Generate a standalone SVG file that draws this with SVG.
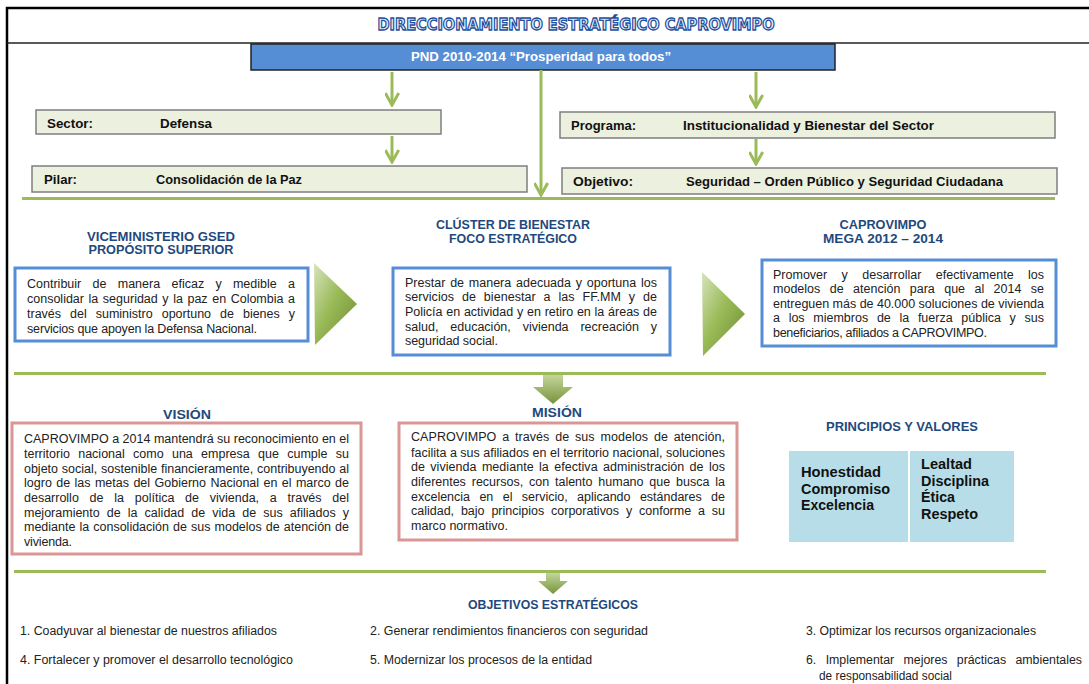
<svg xmlns="http://www.w3.org/2000/svg" width="1089" height="684" viewBox="0 0 1089 684">
<defs>
<style>
.frame{fill:none;stroke:#000;stroke-width:2.5}
.hdr{fill:#ecf0df;stroke:#7f7f7f;stroke-width:1.5}
.lbl{font-family:"Liberation Sans",Arial,sans-serif;font-weight:bold;font-size:12.5px;fill:#111}
.head{font-family:"Liberation Sans",Arial,sans-serif;font-weight:bold;font-size:13px;fill:#1f497d;text-anchor:middle}
.body{font-family:"Liberation Sans",Arial,sans-serif;font-size:12.5px;fill:#222}
.bbox{fill:#fff;stroke:#558ed5;stroke-width:3}
.pbox{fill:#fff;stroke:#d99694;stroke-width:3}
.gline{stroke:#9bbb59;stroke-width:3;fill:none}
.conn{stroke:#9bbb59;stroke-width:3;fill:none}
.val{font-family:"Liberation Sans",Arial,sans-serif;font-weight:bold;font-size:14.5px;fill:#111}
.obj{font-family:"Liberation Sans Narrow","Liberation Sans",Arial,sans-serif;font-size:12.5px;fill:#222}
</style>
<marker id="chev" viewBox="0 0 10 10" refX="9" refY="5" markerWidth="5" markerHeight="5" orient="auto" markerUnits="strokeWidth">
<path d="M1,0.5 L9,5 L1,9.5" fill="none" stroke="#9bbb59" stroke-width="2"/>
</marker>
<linearGradient id="gr" x1="0" y1="0" x2="1" y2="1">
<stop offset="0" stop-color="#d7e4bd"/>
<stop offset="0.45" stop-color="#9bbb59"/>
<stop offset="1" stop-color="#6b8a2e"/>
</linearGradient>
<linearGradient id="gd" x1="0" y1="0" x2="0" y2="1">
<stop offset="0" stop-color="#c3d69b"/>
<stop offset="1" stop-color="#77933c"/>
</linearGradient>
</defs>
<rect width="1089" height="684" fill="#fff"/>
<path class="frame" d="M7,684 L7,8 L1089,8"/>
<line x1="7" y1="43" x2="1089" y2="43" stroke="#222" stroke-width="1.5"/>

<g id="title">
<text x="576" y="30" text-anchor="middle" font-family="DejaVu Sans,Verdana,sans-serif" font-weight="bold" font-size="16" fill="#e6edf8" stroke="#1f4e9c" stroke-width="1.3" textLength="397" lengthAdjust="spacingAndGlyphs">DIRECCIONAMIENTO ESTRATÉGICO CAPROVIMPO</text>
</g>

<g id="pnd">
<rect x="251" y="44" width="584" height="26" fill="#558ed5" stroke="#222" stroke-width="1.5"/>
<text x="411" y="61" class="lbl" style="fill:#fff" textLength="260" lengthAdjust="spacingAndGlyphs">PND 2010-2014 “Prosperidad para todos”</text>
</g>

<g id="connectors">
<line class="conn" x1="392" y1="72" x2="392" y2="105" marker-end="url(#chev)"/>
<line class="conn" x1="392" y1="136" x2="392" y2="162" marker-end="url(#chev)"/>
<line class="conn" x1="756" y1="72" x2="756" y2="107" marker-end="url(#chev)"/>
<line class="conn" x1="756" y1="139" x2="756" y2="164" marker-end="url(#chev)"/>
<line class="conn" x1="541" y1="70" x2="541" y2="195" marker-end="url(#chev)"/>
<line class="gline" x1="22" y1="198.5" x2="1055" y2="198.5"/>
<line class="gline" x1="14" y1="373.5" x2="1046" y2="373.5"/>
<line class="gline" x1="14" y1="571.5" x2="1046" y2="571.5"/>
<path d="M543,375 L563,375 L563,387 L573,387 L553,404 L533,387 L543,387 Z" fill="url(#gd)"/>
<path d="M546,573 L560,573 L560,581 L568,581 L553,594 L538,581 L546,581 Z" fill="url(#gd)"/>
<path d="M314,263 L357,304 L315,345 Z" fill="url(#gr)"/>
<path d="M702,272 L745,314 L703,356 Z" fill="url(#gr)"/>
</g>

<g id="sector">
<rect class="hdr" x="36" y="110" width="405" height="24"/>
<text class="lbl" x="47" y="128" textLength="46" lengthAdjust="spacingAndGlyphs">Sector:</text>
<text class="lbl" x="160" y="128" textLength="52" lengthAdjust="spacingAndGlyphs">Defensa</text>
</g>
<g id="pilar">
<rect class="hdr" x="32" y="166" width="495" height="26"/>
<text class="lbl" x="44" y="184" textLength="33" lengthAdjust="spacingAndGlyphs">Pilar:</text>
<text class="lbl" x="156" y="184" textLength="146" lengthAdjust="spacingAndGlyphs">Consolidación de la Paz</text>
</g>
<g id="programa">
<rect class="hdr" x="560" y="112" width="495" height="26"/>
<text class="lbl" x="571" y="130" textLength="65" lengthAdjust="spacingAndGlyphs">Programa:</text>
<text class="lbl" x="683" y="130" textLength="251" lengthAdjust="spacingAndGlyphs">Institucionalidad y Bienestar del  Sector</text>
</g>
<g id="objetivo">
<rect class="hdr" x="562" y="168" width="495" height="26"/>
<text class="lbl" x="573" y="186" textLength="60" lengthAdjust="spacingAndGlyphs">Objetivo:</text>
<text class="lbl" x="686" y="186" textLength="317" lengthAdjust="spacingAndGlyphs">Seguridad – Orden Público y Seguridad  Ciudadana</text>
</g>

<g id="viceministerio">
<text class="head" x="161" y="241" textLength="148" lengthAdjust="spacingAndGlyphs">VICEMINISTERIO GSED</text>
<text class="head" x="161" y="254" textLength="145" lengthAdjust="spacingAndGlyphs">PROPÓSITO SUPERIOR</text>
<rect class="bbox" x="15" y="268" width="293" height="73"/>
<text class="body" x="27" y="288" word-spacing="7.8" textLength="268">Contribuir de manera eficaz y medible a</text>
<text class="body" x="27" y="303" word-spacing="1.1" textLength="268">consolidar la seguridad y la paz en Colombia a</text>
<text class="body" x="27" y="318" word-spacing="5.5" textLength="268">través del suministro oportuno de bienes y</text>
<text class="body" x="27" y="333" textLength="230">servicios que apoyen la Defensa Nacional.</text>
</g>

<g id="cluster">
<text class="head" x="513" y="229" textLength="154" lengthAdjust="spacingAndGlyphs">CLÚSTER DE BIENESTAR</text>
<text class="head" x="513" y="243" textLength="128" lengthAdjust="spacingAndGlyphs">FOCO ESTRATÉGICO</text>
<rect class="bbox" x="393" y="268" width="277" height="87"/>
<text class="body" x="405" y="287" word-spacing="1.35" textLength="252">Prestar de manera adecuada y oportuna los</text>
<text class="body" x="405" y="301" word-spacing="4.4" textLength="252">servicios de bienestar a las FF.MM y de</text>
<text class="body" x="405" y="316" word-spacing="0.35" textLength="252">Policía en actividad y en retiro en la áreas de</text>
<text class="body" x="405" y="331" word-spacing="8.4" textLength="252">salud, educación, vivienda recreación y</text>
<text class="body" x="405" y="345" textLength="93">seguridad social.</text>
</g>

<g id="caprovimpo">
<text class="head" x="883" y="229" textLength="87" lengthAdjust="spacingAndGlyphs">CAPROVIMPO</text>
<text class="head" x="883" y="243" textLength="120" lengthAdjust="spacingAndGlyphs">MEGA 2012 – 2014</text>
<rect class="bbox" x="762" y="260" width="294" height="86"/>
<text class="body" x="773" y="279" word-spacing="10.9" textLength="271">Promover y desarrollar efectivamente los</text>
<text class="body" x="773" y="293" word-spacing="5.9" textLength="271">modelos de atención para que al 2014 se</text>
<text class="body" x="773" y="308" textLength="271">entreguen más de 40.000 soluciones de vivienda</text>
<text class="body" x="773" y="322" word-spacing="5.2" textLength="271">a los miembros de la fuerza pública y sus</text>
<text class="body" x="773" y="337" textLength="214">beneficiarios, afiliados a CAPROVIMPO.</text>
</g>

<g id="vision">
<text class="head" x="187" y="419" textLength="48" lengthAdjust="spacingAndGlyphs">VISIÓN</text>
<rect class="pbox" x="12" y="423" width="349" height="131"/>
<text class="body" x="24" y="443" textLength="325">CAPROVIMPO a 2014 mantendrá su reconocimiento en el</text>
<text class="body" x="24" y="458" word-spacing="4.8" textLength="325">territorio nacional como una empresa que cumple su</text>
<text class="body" x="24" y="473" word-spacing="0.4" textLength="325">objeto social, sostenible financieramente, contribuyendo al</text>
<text class="body" x="24" y="487" word-spacing="0.9" textLength="325">logro de las metas del Gobierno Nacional en el marco de</text>
<text class="body" x="24" y="502" word-spacing="7.3" textLength="325">desarrollo de la política de vivienda, a través del</text>
<text class="body" x="24" y="517" word-spacing="3.6" textLength="325">mejoramiento de la calidad de vida de sus afiliados y</text>
<text class="body" x="24" y="531" word-spacing="0.6" textLength="325">mediante la consolidación de sus modelos de atención de</text>
<text class="body" x="24" y="546" textLength="48">vivienda.</text>
</g>

<g id="mision">
<text class="head" x="557" y="417" textLength="50" lengthAdjust="spacingAndGlyphs">MISIÓN</text>
<rect class="pbox" x="399" y="423" width="338" height="117"/>
<text class="body" x="411" y="441" word-spacing="2.3" textLength="314">CAPROVIMPO a través de sus modelos de atención,</text>
<text class="body" x="411" y="457" textLength="314">facilita a sus afiliados en el territorio nacional, soluciones</text>
<text class="body" x="411" y="471" word-spacing="1.8" textLength="314">de vivienda mediante la efectiva administración de los</text>
<text class="body" x="411" y="486" word-spacing="2.4" textLength="314">diferentes recursos, con talento humano que busca la</text>
<text class="body" x="411" y="501" word-spacing="5.9" textLength="314">excelencia en el servicio, aplicando estándares de</text>
<text class="body" x="411" y="515" word-spacing="3.4" textLength="314">calidad, bajo principios corporativos y conforme a su</text>
<text class="body" x="411" y="530" textLength="97">marco normativo.</text>
</g>

<g id="principios">
<text class="head" x="902" y="431" textLength="152" lengthAdjust="spacingAndGlyphs">PRINCIPIOS Y VALORES</text>
<rect x="789" y="451" width="119" height="91" fill="#b7dee8"/>
<rect x="910" y="451" width="104" height="91" fill="#b7dee8"/>
<text class="val" x="801" y="477" textLength="80" lengthAdjust="spacingAndGlyphs">Honestidad</text>
<text class="val" x="801" y="494" textLength="89" lengthAdjust="spacingAndGlyphs">Compromiso</text>
<text class="val" x="801" y="510" textLength="73" lengthAdjust="spacingAndGlyphs">Excelencia</text>
<text class="val" x="921" y="469" textLength="51" lengthAdjust="spacingAndGlyphs">Lealtad</text>
<text class="val" x="921" y="486" textLength="68" lengthAdjust="spacingAndGlyphs">Disciplina</text>
<text class="val" x="921" y="502" textLength="34" lengthAdjust="spacingAndGlyphs">Ética</text>
<text class="val" x="921" y="519" textLength="57" lengthAdjust="spacingAndGlyphs">Respeto</text>
</g>

<g id="objetivos">
<text class="head" x="553" y="609" textLength="170" lengthAdjust="spacingAndGlyphs" style="font-size:12.5px">OBJETIVOS ESTRATÉGICOS</text>
<text class="obj" x="20" y="635" textLength="257" lengthAdjust="spacingAndGlyphs">1. Coadyuvar al bienestar de nuestros afiliados</text>
<text class="obj" x="370" y="635" textLength="278" lengthAdjust="spacingAndGlyphs">2. Generar rendimientos financieros con seguridad</text>
<text class="obj" x="806" y="635" textLength="230" lengthAdjust="spacingAndGlyphs">3. Optimizar los recursos organizacionales</text>
<text class="obj" x="20" y="664" textLength="273" lengthAdjust="spacingAndGlyphs">4. Fortalecer y promover el desarrollo tecnológico</text>
<text class="obj" x="370" y="664" textLength="222" lengthAdjust="spacingAndGlyphs">5. Modernizar los procesos de la entidad</text>
<text class="obj" x="806" y="664" word-spacing="6" textLength="276" lengthAdjust="spacingAndGlyphs">6. Implementar mejores prácticas ambientales</text>
<text class="obj" x="819" y="680" textLength="133" lengthAdjust="spacingAndGlyphs">de responsabilidad social</text>
</g>
</svg>
